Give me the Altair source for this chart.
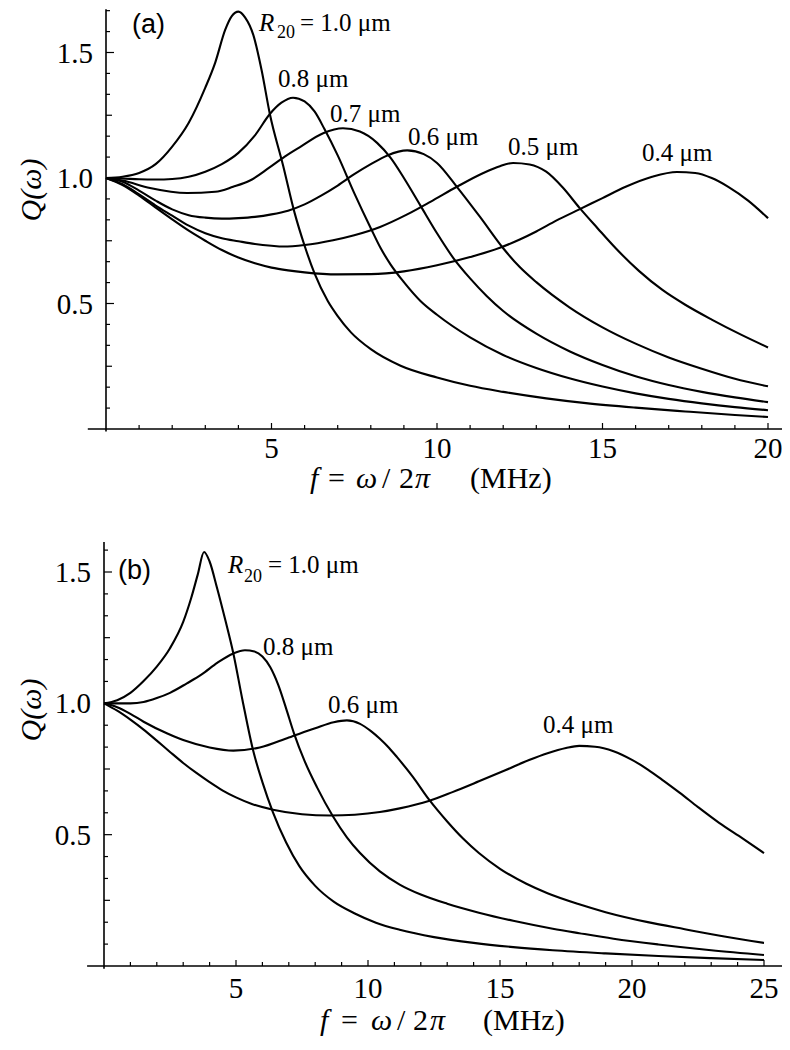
import altair as alt
import pandas as pd

# ---------------- values ----------------
# Panel (a): f = omega/2pi in MHz, Q(omega), one curve per bubble radius R20
A_F_10 = [0, 0.5, 1, 1.5, 2, 2.5, 3, 3.3, 3.6, 3.8, 4.0, 4.2, 4.45, 4.7, 4.95, 5.35, 5.7, 6.0, 6.3, 6.7, 7.0, 7.4, 8.0, 8.9, 10, 11, 12, 13.3, 14.5, 16, 17.5, 19, 20]
A_Q_10 = [1.0, 1.005, 1.02, 1.055, 1.125, 1.22, 1.36, 1.46, 1.59, 1.645, 1.663, 1.64, 1.57, 1.43, 1.255, 1.05, 0.86, 0.73, 0.62, 0.51, 0.45, 0.385, 0.318, 0.252, 0.205, 0.172, 0.148, 0.122, 0.103, 0.085, 0.07, 0.056, 0.048]

A_F_08 = [0, 0.5, 1, 1.5, 2, 2.5, 3, 3.5, 4, 4.5, 4.95, 5.3, 5.65, 6.0, 6.3, 6.6, 7.0, 7.5, 8.0, 8.3, 8.6, 9, 9.5, 10, 11, 12, 13, 14, 15, 16, 17, 18, 19, 20]
A_Q_08 = [1.0, 0.998, 0.995, 0.994, 0.996, 1.005, 1.025, 1.055, 1.10, 1.17, 1.255, 1.30, 1.32, 1.305, 1.265, 1.195, 1.09, 0.94, 0.80, 0.72, 0.655, 0.585, 0.51, 0.455, 0.365, 0.295, 0.243, 0.202, 0.169, 0.142, 0.12, 0.102, 0.087, 0.075]

A_F_07 = [0, 0.5, 1.33, 2.45, 3.3, 3.84, 4.35, 4.92, 5.4, 5.86, 6.56, 7.16, 7.67, 8.19, 8.6, 9.0, 9.5, 10.0, 10.5, 11, 11.5, 12, 13, 14, 15, 16, 17, 18, 19, 20]
A_Q_07 = [1.0, 0.99, 0.96, 0.94, 0.945, 0.965, 0.99, 1.04, 1.085, 1.123, 1.178, 1.198, 1.185, 1.14, 1.08, 1.0, 0.89, 0.78, 0.68, 0.6, 0.53, 0.47, 0.38, 0.31, 0.255, 0.21, 0.175, 0.148, 0.126, 0.107]

A_F_06 = [0, 0.5, 1, 1.5, 2, 2.5, 3, 3.5, 4, 4.5, 5, 5.5, 6, 6.5, 7, 7.5, 8, 8.5, 9.1, 9.6, 10.0, 10.6, 11.3, 12.0, 12.5, 13, 14, 15, 16, 17, 18, 19, 20]
A_Q_06 = [1.0, 0.985, 0.95, 0.91, 0.875, 0.852, 0.842, 0.838, 0.84, 0.845, 0.855, 0.87, 0.895, 0.93, 0.97, 1.015, 1.055, 1.09, 1.11, 1.095, 1.06, 0.965, 0.845, 0.72, 0.645, 0.585, 0.485, 0.405, 0.34, 0.285, 0.24, 0.2, 0.17]

A_F_05 = [0, 0.5, 1, 1.5, 2, 2.5, 3, 3.5, 4, 4.5, 5, 5.35, 6, 6.86, 7.5, 8.28, 9.1, 9.8, 10.6, 11.4, 11.9, 12.3, 12.8, 13.3, 13.8, 14.3, 14.85, 15.4, 16.1, 16.8, 17.5, 18.3, 19.2, 20]
A_Q_05 = [1.0, 0.975, 0.935, 0.89, 0.85, 0.81, 0.78, 0.76, 0.748, 0.737, 0.73, 0.727, 0.733, 0.752, 0.772, 0.805, 0.855, 0.905, 0.965, 1.02, 1.047, 1.06, 1.054, 1.025, 0.962, 0.882, 0.80, 0.72, 0.63, 0.555, 0.495, 0.436, 0.375, 0.325]

A_F_04 = [0, 0.5, 1, 1.5, 2, 2.5, 3, 3.5, 4, 4.5, 5, 5.5, 6, 7, 8, 9, 10, 11, 11.9, 12.5, 13, 13.6, 14.3, 15, 15.7, 16.5, 17.25, 17.8, 18.3, 18.8, 19.4, 20]
A_Q_04 = [1.0, 0.972, 0.93, 0.882, 0.835, 0.79, 0.75, 0.713, 0.683, 0.66, 0.643, 0.632, 0.624, 0.616, 0.617, 0.628, 0.652, 0.685, 0.722, 0.755, 0.787, 0.83, 0.875, 0.92, 0.965, 1.005, 1.024, 1.02, 1.0, 0.965, 0.91, 0.84]

# Panel (b)
B_F_10 = [0, 0.5, 1, 1.5, 2, 2.5, 3.0, 3.3, 3.55, 3.79, 4.0, 4.28, 4.6, 4.9, 5.25, 5.65, 6.0, 6.4, 6.9, 7.4, 8.0, 8.7, 9.5, 10.3, 11.2, 12.5, 14, 15.5, 17, 19, 21, 23, 25]
B_Q_10 = [1.0, 1.012, 1.04, 1.085, 1.14, 1.21, 1.31, 1.40, 1.49, 1.576, 1.54, 1.44, 1.315, 1.19, 1.01, 0.82, 0.7, 0.585, 0.47, 0.38, 0.305, 0.245, 0.2, 0.165, 0.138, 0.11, 0.088, 0.072, 0.06, 0.048, 0.038, 0.03, 0.023]

B_F_08 = [0, 0.5, 1, 1.5, 2, 2.5, 3.14, 3.7, 4.3, 4.9, 5.34, 5.7, 6.0, 6.3, 6.6, 6.9, 7.2, 7.6, 8.07, 8.67, 9.2, 9.7, 10.45, 11.2, 12, 13, 14.2, 15.5, 17, 18, 19.3, 21, 23, 25]
B_Q_08 = [1.0, 1.0, 1.0, 1.005, 1.02, 1.04, 1.076, 1.11, 1.155, 1.19, 1.202, 1.197, 1.178, 1.137, 1.07, 0.98, 0.885, 0.78, 0.68, 0.57, 0.49, 0.43, 0.36, 0.31, 0.272, 0.237, 0.203, 0.172, 0.142, 0.125, 0.104, 0.082, 0.06, 0.042]

B_F_06 = [0, 0.5, 1, 1.5, 2.4, 3, 4, 4.9, 5.9, 7, 8, 8.7, 9.2, 9.7, 10.1, 10.45, 10.8, 11.1, 11.7, 12.3, 13, 13.6, 14.2, 15, 16, 16.8, 18, 19, 20.6, 22, 23.5, 25]
B_Q_06 = [1.0, 0.985, 0.96, 0.93, 0.885, 0.86, 0.832, 0.82, 0.832, 0.87, 0.905, 0.928, 0.935, 0.922, 0.895, 0.865, 0.83, 0.795, 0.72, 0.635, 0.55, 0.485, 0.43, 0.37, 0.313, 0.277, 0.235, 0.205, 0.167, 0.14, 0.112, 0.088]

B_F_04 = [0, 0.5, 1, 1.5, 2, 2.5, 3, 3.5, 4, 4.5, 5, 5.6, 6.4, 7.5, 8.56, 9.5, 10.45, 11.2, 12.3, 13.2, 14.2, 15.2, 16.1, 16.8, 17.5, 18.0, 18.6, 19.3, 20, 20.6, 21.2, 21.8, 22.5, 23.3, 24.2, 25]
B_Q_04 = [1.0, 0.972, 0.938, 0.9, 0.858, 0.815, 0.773, 0.735, 0.70, 0.668, 0.642, 0.617, 0.595, 0.578, 0.573, 0.576, 0.586, 0.6, 0.628, 0.662, 0.703, 0.745, 0.784, 0.81, 0.83, 0.838, 0.835, 0.818, 0.785, 0.748, 0.705, 0.66, 0.605, 0.545, 0.485, 0.43]

# Axis tick values and labels
A_X_TICKS = list(range(1, 21))
A_X_LABELS = [5, 10, 15, 20]
B_X_TICKS = list(range(1, 26))
B_X_LABELS = [5, 10, 15, 20, 25]
Y_LABELS = [0.5, 1.0, 1.5]
A_Y_TICKS = [k / 12 for k in range(1, 21)]
B_Y_TICKS = [k / 12 for k in range(1, 20)]

CURVE_LABELS_A = ["0.8 μm", "0.7 μm", "0.6 μm", "0.5 μm", "0.4 μm"]
CURVE_LABELS_B = ["0.8 μm", "0.6 μm", "0.4 μm"]

SERIF = "Liberation Serif"
SANS = "Liberation Sans"
M = 8  # page margin -> chart coordinates


def curves_df(series):
    rows = []
    for name, fs, qs in series:
        for f, q in zip(fs, qs):
            rows.append({"R": name, "f": f, "Q": q})
    return pd.DataFrame(rows)


def text_layer(pieces, font, size, style="normal", angle=0, align="left", baseline="alphabetic"):
    df = pd.DataFrame([{"t": t, "px": x - M, "py": y - M} for t, x, y in pieces])
    return alt.Chart(df).mark_text(
        font=font, fontSize=size, fontStyle=style, angle=angle, align=align,
        baseline=baseline, color="black", clip=False
    ).encode(
        x=alt.X("px:Q", scale=None, axis=None),
        y=alt.Y("py:Q", scale=None, axis=None),
        text="t:N",
    )


def panel(series, xdom, xrng, yrng, x_ext, y_ext, xticks, xlabels, yticks, xlab_dy):
    xs = alt.Scale(domain=xdom, range=xrng, nice=False, zero=False)
    ys = alt.Scale(domain=[0, 1.5], range=yrng, nice=False, zero=False)
    layers = []

    df = curves_df(series)
    layers.append(alt.Chart(df).mark_line(
        color="black", strokeWidth=2.1, interpolate="monotone", clip=False
    ).encode(
        x=alt.X("f:Q", scale=xs, axis=None),
        y=alt.Y("Q:Q", scale=ys, axis=None),
        detail="R:N",
        order="f:Q",
    ))

    # axis lines
    layers.append(alt.Chart(pd.DataFrame({"a": [x_ext[0]], "b": [x_ext[1]], "y": [0.0]})).mark_rule(
        color="black", strokeWidth=1.6
    ).encode(x=alt.X("a:Q", scale=xs, axis=None), x2="b:Q", y=alt.Y("y:Q", scale=ys, axis=None)))
    layers.append(alt.Chart(pd.DataFrame({"x": [0.0], "a": [y_ext[0]], "b": [y_ext[1]]})).mark_rule(
        color="black", strokeWidth=1.6
    ).encode(x=alt.X("x:Q", scale=xs, axis=None), y=alt.Y("a:Q", scale=ys, axis=None), y2="b:Q"))

    # x ticks (pointing inward / upward)
    for major, ln in ((False, 4), (True, 6)):
        vals = [t for t in xticks if (t % 5 == 0) == major]
        layers.append(alt.Chart(pd.DataFrame({"t": vals, "y": [0.0] * len(vals)})).mark_rule(
            color="black", strokeWidth=1.2, y2Offset=-ln
        ).encode(x=alt.X("t:Q", scale=xs, axis=None), y=alt.Y("y:Q", scale=ys, axis=None), y2="y:Q"))

    # y ticks (pointing inward / right)
    groups = {4: [], 6: [], 8: []}
    for t in yticks:
        k = round(t * 12)
        ln = 8 if k % 6 == 0 else (6 if k % 3 == 0 else 4)
        groups[ln].append(t)
    for ln, vals in groups.items():
        layers.append(alt.Chart(pd.DataFrame({"t": vals, "x": [0.0] * len(vals)})).mark_rule(
            color="black", strokeWidth=1.2, x2Offset=ln
        ).encode(y=alt.Y("t:Q", scale=ys, axis=None), x=alt.X("x:Q", scale=xs, axis=None), x2="x:Q"))

    # tick labels
    layers.append(alt.Chart(pd.DataFrame({"t": xlabels, "lab": [str(v) for v in xlabels], "y": [0.0] * len(xlabels)})).mark_text(
        font=SERIF, fontSize=29, align="center", baseline="alphabetic", dy=xlab_dy, color="black"
    ).encode(x=alt.X("t:Q", scale=xs, axis=None), y=alt.Y("y:Q", scale=ys, axis=None), text="lab:N"))
    layers.append(alt.Chart(pd.DataFrame({"t": Y_LABELS, "lab": [f"{v:.1f}" for v in Y_LABELS], "x": [0.0] * 3})).mark_text(
        font=SERIF, fontSize=29, align="right", baseline="alphabetic", dx=-13, dy=10, color="black"
    ).encode(y=alt.Y("t:Q", scale=ys, axis=None), x=alt.X("x:Q", scale=xs, axis=None), text="lab:N"))
    return layers


layers_a = panel(
    [("1.0", A_F_10, A_Q_10), ("0.8", A_F_08, A_Q_08), ("0.7", A_F_07, A_Q_07),
     ("0.6", A_F_06, A_Q_06), ("0.5", A_F_05, A_Q_05), ("0.4", A_F_04, A_Q_04)],
    xdom=[0, 20], xrng=[106 - M, 768 - M], yrng=[429 - M, 52.5 - M],
    x_ext=(-0.55, 20.55), y_ext=(-0.01, 1.672), xticks=A_X_TICKS, xlabels=A_X_LABELS,
    yticks=A_Y_TICKS, xlab_dy=29,
)
layers_b = panel(
    [("1.0", B_F_10, B_Q_10), ("0.8", B_F_08, B_Q_08), ("0.6", B_F_06, B_Q_06), ("0.4", B_F_04, B_Q_04)],
    xdom=[0, 25], xrng=[104 - M, 764 - M], yrng=[966 - M, 572 - M],
    x_ext=(-0.64, 25.7), y_ext=(-0.01, 1.614), xticks=B_X_TICKS, xlabels=B_X_LABELS,
    yticks=B_Y_TICKS, xlab_dy=32,
)

texts = [
    # panel tags
    text_layer([("(a)", 132, 33), ("(b)", 118, 579)], SANS, 27),
    # R20 labels
    text_layer([("R", 259, 31), ("R", 228, 573)], SERIF, 25, "italic"),
    text_layer([("20", 277, 38), ("20", 244, 582)], SERIF, 18),
    text_layer([("= 1.0 μm", 300, 31), ("= 1.0 μm", 268, 573)], SERIF, 25),
    # other curve labels
    text_layer(list(zip(CURVE_LABELS_A, [278, 330, 408, 508, 642], [87, 122, 145, 155, 161])), SERIF, 25),
    text_layer(list(zip(CURVE_LABELS_B, [263, 328, 543], [655, 713, 733])), SERIF, 25),
    # x axis titles
    text_layer([("f", 310, 488), ("ω", 356, 488), ("π", 415, 488),
                ("f", 320, 1030), ("ω", 371, 1030), ("π", 430, 1030)], SERIF, 30, "italic"),
    text_layer([("=", 328, 488), ("/", 382, 488), ("2", 399, 488), ("(MHz)", 470, 488),
                ("=", 341, 1030), ("/", 397, 1030), ("2", 413, 1030), ("(MHz)", 483, 1030)], SERIF, 30),
    # y axis titles
    text_layer([("Q(ω)", 32, 190), ("Q(ω)", 32, 710)], SERIF, 30, "italic", angle=270,
               align="center", baseline="middle"),
]

chart = alt.layer(*layers_a, *layers_b, *texts).resolve_scale(
    x="independent", y="independent"
).properties(
    width=774, height=1034, autosize="none", padding=0, background="white"
).configure_view(stroke=None)

chart.save("out.html", embed_options={"renderer": "svg", "actions": False})
